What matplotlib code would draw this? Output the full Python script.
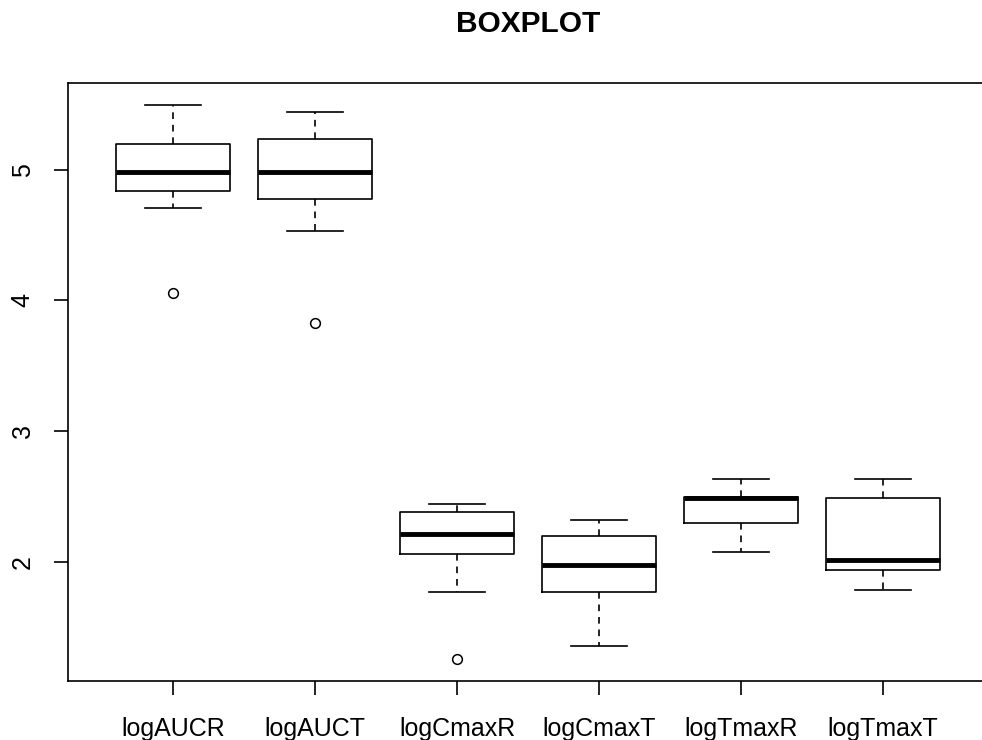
import matplotlib.pyplot as plt

plt.rcParams['font.family'] = ['Liberation Sans', 'DejaVu Sans']

labels = ['logAUCR', 'logAUCT', 'logCmaxR', 'logCmaxT', 'logTmaxR', 'logTmaxT']
whislo = [4.703, 4.529, 1.770, 1.357, 2.074, 1.783]
q1 = [4.835, 4.777, 2.061, 1.770, 2.296, 1.941]
med = [4.981, 4.980, 2.209, 1.977, 2.488, 2.015]
q3 = [5.200, 5.237, 2.381, 2.197, 2.498, 2.488]
whishi = [5.494, 5.443, 2.442, 2.316, 2.633, 2.633]
fliers = [[4.057], [3.825], [1.257], [], [], []]

stats = []
for i in range(len(labels)):
    stats.append({'label': labels[i], 'whislo': whislo[i], 'q1': q1[i], 'med': med[i],
                  'q3': q3[i], 'whishi': whishi[i], 'fliers': fliers[i]})

fig = plt.figure(figsize=(9.82, 7.4), dpi=100)
ax = fig.add_axes([68 / 982, 1 - 681 / 740, 920 / 982, 598 / 740])

ax.bxp(stats, widths=0.8, patch_artist=False,
       boxprops=dict(color='black', linewidth=1.2),
       medianprops=dict(color='black', linewidth=3.5, solid_capstyle='butt'),
       whiskerprops=dict(color='black', linewidth=1.2, linestyle=(0, (4, 3.5))),
       capprops=dict(color='black', linewidth=1.2),
       capwidths=0.4,
       flierprops=dict(marker='o', markerfacecolor='none', markeredgecolor='black',
                       markersize=7, markeredgewidth=1.1))

ax.set_xlim(0.26, 6.74)
ax.set_ylim(1.088, 5.663)
ax.set_yticks([2, 3, 4, 5])
ax.set_yticklabels(['2', '3', '4', '5'], rotation=90, va='center')
ax.tick_params(axis='both', length=10, width=1.2, labelsize=18, color='black')
ax.tick_params(axis='y', pad=14)
ax.tick_params(axis='x', pad=16)
for s in ax.spines.values():
    s.set_linewidth(1.2)

fig.text(528 / 982, 1 - 24 / 740, 'BOXPLOT', ha='center', va='center',
         fontsize=21.5, fontweight='bold')

fig.savefig('out.png', dpi=100)
